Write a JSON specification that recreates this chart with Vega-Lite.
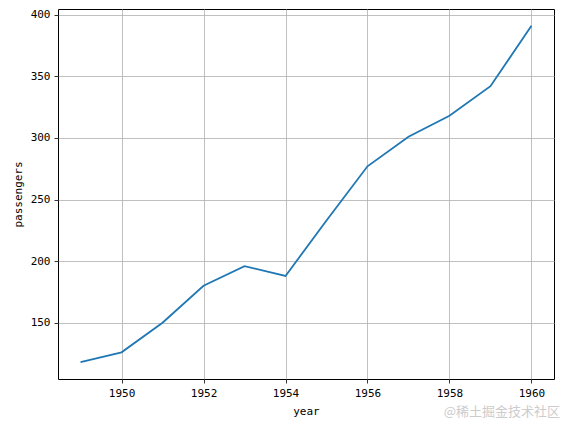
{
  "$schema": "https://vega.github.io/schema/vega-lite/v6.json",
  "width": 496,
  "height": 370,
  "autosize": {"type": "none"},
  "padding": {"left": 58, "top": 9, "right": 10, "bottom": 49},
  "background": "white",
  "title": {
    "text": "@稀土掘金技术社区",
    "orient": "bottom",
    "anchor": "end",
    "font": "Noto Sans CJK SC",
    "fontSize": 13,
    "fontWeight": "normal",
    "color": "#cccccc",
    "offset": -10,
    "dx": 6
  },
  "data": {
    "values": [
      {"year": 1949, "passengers": 118},
      {"year": 1950, "passengers": 126},
      {"year": 1951, "passengers": 150},
      {"year": 1952, "passengers": 180},
      {"year": 1953, "passengers": 196},
      {"year": 1954, "passengers": 188},
      {"year": 1955, "passengers": 233},
      {"year": 1956, "passengers": 277},
      {"year": 1957, "passengers": 301},
      {"year": 1958, "passengers": 318},
      {"year": 1959, "passengers": 342},
      {"year": 1960, "passengers": 391}
    ]
  },
  "mark": {"type": "line", "color": "#1f77b4", "strokeWidth": 1.8, "clip": true},
  "encoding": {
    "x": {
      "field": "year",
      "type": "quantitative",
      "scale": {"domain": [1948.45, 1960.55], "nice": false, "zero": false},
      "axis": {"values": [1950, 1952, 1954, 1956, 1958, 1960], "format": "d", "title": "year"}
    },
    "y": {
      "field": "passengers",
      "type": "quantitative",
      "scale": {"domain": [104.35, 404.65], "nice": false, "zero": false},
      "axis": {"values": [150, 200, 250, 300, 350, 400], "title": "passengers"}
    }
  },
  "config": {
    "view": {"stroke": "black", "strokeWidth": 1},
    "axis": {
      "domain": false,
      "grid": true,
      "gridColor": "#b0b0b0",
      "gridWidth": 0.8,
      "tickColor": "black",
      "tickSize": 4,
      "tickWidth": 0.8,
      "labelFont": "DejaVu Sans Mono",
      "labelFontSize": 11,
      "labelColor": "black",
      "labelPadding": 4,
      "titleFont": "DejaVu Sans Mono",
      "titleFontSize": 11,
      "titleFontWeight": "normal",
      "titleColor": "black"
    },
    "axisX": {"titlePadding": 7},
    "axisY": {"titlePadding": 7}
  }
}
